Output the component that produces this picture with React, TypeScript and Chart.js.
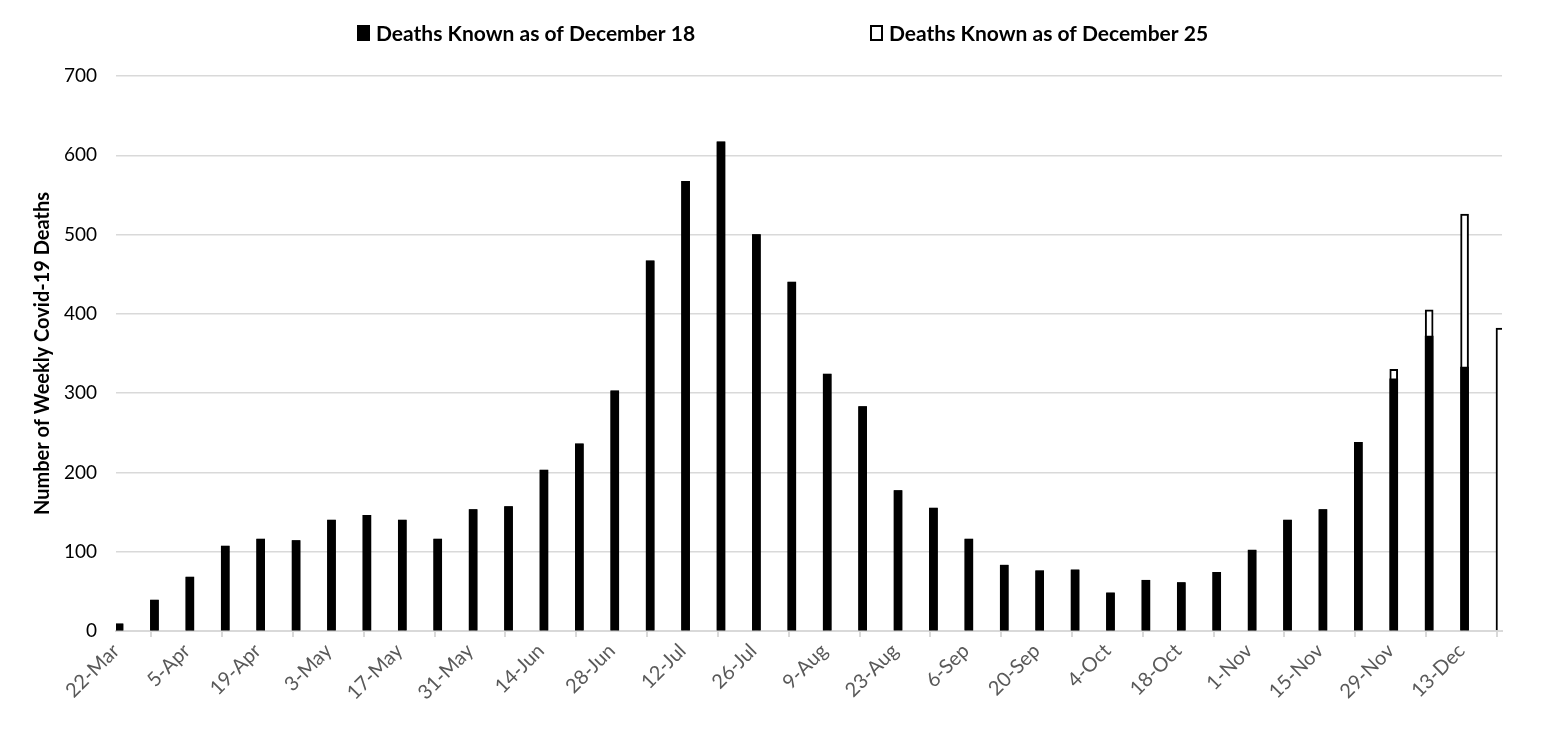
import React, { useEffect, useRef } from "react";
import { Chart, registerables } from "chart.js";

Chart.register(...registerables);

// Weekly categories (week starting dates, 2020)
const weeks = [
  "22-Mar", "29-Mar", "5-Apr", "12-Apr", "19-Apr", "26-Apr", "3-May", "10-May",
  "17-May", "24-May", "31-May", "7-Jun", "14-Jun", "21-Jun", "28-Jun", "5-Jul",
  "12-Jul", "19-Jul", "26-Jul", "2-Aug", "9-Aug", "16-Aug", "23-Aug", "30-Aug",
  "6-Sep", "13-Sep", "20-Sep", "27-Sep", "4-Oct", "11-Oct", "18-Oct", "25-Oct",
  "1-Nov", "8-Nov", "15-Nov", "22-Nov", "29-Nov", "6-Dec", "13-Dec", "20-Dec",
];

// Axis tick labels (every other week)
const tickLabels = [
  "22-Mar", "5-Apr", "19-Apr", "3-May", "17-May", "31-May", "14-Jun", "28-Jun",
  "12-Jul", "26-Jul", "9-Aug", "23-Aug", "6-Sep", "20-Sep", "4-Oct", "18-Oct",
  "1-Nov", "15-Nov", "29-Nov", "13-Dec",
];

const yTicks = [0, 100, 200, 300, 400, 500, 600, 700];

const deathsDec18 = [
  9, 39, 68, 107, 116, 114, 140, 146,
  140, 116, 153, 157, 203, 236, 303, 467,
  567, 617, 500, 440, 324, 283, 177, 155,
  116, 83, 76, 77, 48, 64, 61, 74,
  102, 140, 153, 238, 318, 372, 333, null,
];

const deathsDec25 = [
  9, 39, 68, 107, 116, 114, 140, 146,
  140, 116, 153, 157, 203, 236, 303, 467,
  567, 617, 500, 440, 324, 283, 177, 155,
  116, 83, 76, 77, 48, 64, 61, 74,
  102, 140, 153, 238, 330, 405, 526, 382,
];

const labelDec18 = "Deaths Known as of December 18";
const labelDec25 = "Deaths Known as of December 25";

const FONT = "Lato";
const DAYS_PER_WEEK = 7;
const DAY_SLOT_CENTER = 0.6; // bars sit inside their day slot on a date axis

export default function App() {
  const canvasRef = useRef<HTMLCanvasElement | null>(null);

  useEffect(() => {
    if (!canvasRef.current) return;
    const toPoints = (vals: (number | null)[]) =>
      vals.map((v, i) => ({ x: i * DAYS_PER_WEEK + DAY_SLOT_CENTER, y: v }));
    const tickDays = tickLabels.map((l) => weeks.indexOf(l) * DAYS_PER_WEEK);
    const axisMax = (weeks.length - 1) * DAYS_PER_WEEK + 1;

    const spreadLegend = {
      id: "spreadLegend",
      afterDraw(chart: any) {
        const ctx = chart.ctx as CanvasRenderingContext2D;
        const itemX = [357, 870];
        const cy = 33;
        chart.data.datasets.forEach((ds: any, i: number) => {
          const x = itemX[i];
          ctx.save();
          ctx.fillStyle = ds.backgroundColor;
          ctx.strokeStyle = "#000";
          ctx.lineWidth = 2;
          ctx.beginPath();
          ctx.rect(x + 1, cy - 7, 11, 14);
          ctx.fill();
          ctx.stroke();
          ctx.fillStyle = "#000";
          ctx.font = `bold 21px ${FONT}`;
          ctx.textBaseline = "middle";
          ctx.textAlign = "left";
          ctx.fillText(ds.label, x + 19, cy + 1);
          ctx.restore();
        });
      },
    };

    const chart = new Chart(canvasRef.current, {
      type: "bar",
      data: {
        datasets: [
          {
            label: labelDec18,
            data: toPoints(deathsDec18) as any,
            backgroundColor: "#000000",
            borderWidth: 0,
            barThickness: 8,
            grouped: false,
            clip: 0,
          } as any,
          {
            label: labelDec25,
            data: toPoints(deathsDec25) as any,
            backgroundColor: "#ffffff",
            borderColor: "#000000",
            borderWidth: 2,
            barThickness: 8,
            grouped: false,
            clip: 0,
          } as any,
        ],
      },
      options: {
        animation: false,
        responsive: false,
        layout: { padding: { top: 76, right: 40, bottom: 0, left: 0 } },
        plugins: {
          legend: { display: false },
          tooltip: { enabled: false },
        },
        scales: {
          x: {
            type: "linear",
            min: 0,
            max: axisMax,
            offset: false,
            afterBuildTicks: (scale: any) => {
              scale.ticks = tickDays.map((v) => ({ value: v }));
            },
            afterFit: (scale: any) => {
              scale.height = 98;
            },
            ticks: {
              autoSkip: false,
              minRotation: 45,
              maxRotation: 45,
              color: "#595959",
              padding: 2,
              font: { family: FONT, size: 20 },
              callback: (_v: any, index: number) => tickLabels[index],
            },
            grid: {
              drawOnChartArea: false,
              drawTicks: true,
              tickLength: 6,
              color: "#d9d9d9",
              lineWidth: 2,
            },
            border: { color: "#d9d9d9", width: 2 },
          },
          y: {
            min: 0,
            max: 700,
            afterBuildTicks: (scale: any) => {
              scale.ticks = yTicks.map((v) => ({ value: v }));
            },
            afterFit: (scale: any) => {
              scale.width = 116;
            },
            ticks: {
              color: "#000000",
              padding: 19,
              font: { family: FONT, size: 19 },
            },
            grid: { color: "#d9d9d9", lineWidth: 1.5, drawTicks: false },
            border: { display: false },
            title: {
              display: true,
              text: "Number of Weekly Covid-19 Deaths",
              color: "#000000",
              font: { family: FONT, size: 20, weight: "bold" },
              padding: { top: 31, bottom: 0 },
            },
          },
        },
      },
      plugins: [spreadLegend],
    } as any);

    return () => chart.destroy();
  }, []);

  return (
    <div style={{ position: "absolute", left: 0, top: 0, width: 1542, height: 729, background: "#fff" }}>
      <canvas ref={canvasRef} width={1542} height={729} />
    </div>
  );
}
